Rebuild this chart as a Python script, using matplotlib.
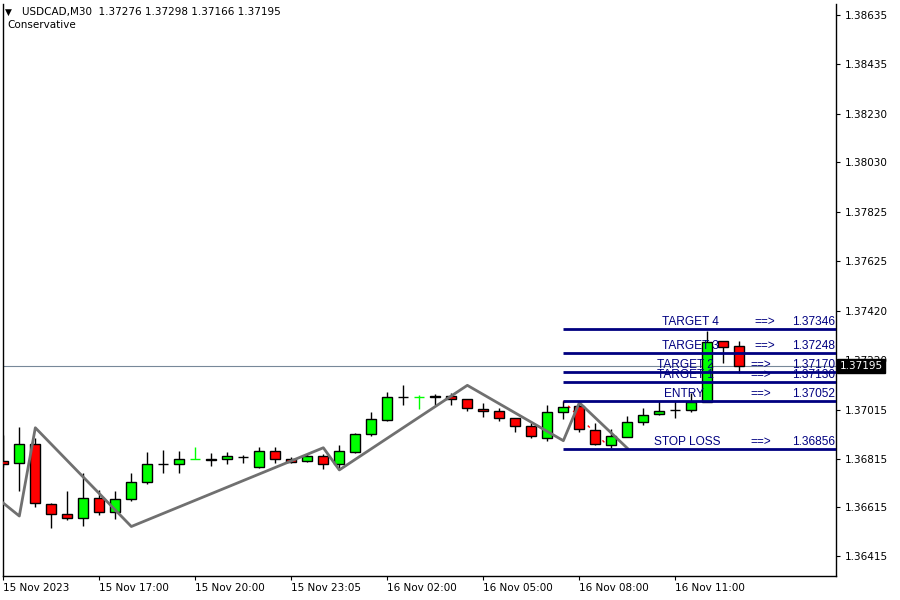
import matplotlib
matplotlib.use('Agg')
import matplotlib.pyplot as plt
import numpy as np

# USDCAD M30 bars
opens = [1.36805, 1.36797, 1.36875, 1.36628, 1.36587, 1.36571, 1.36653, 1.36598, 1.36649, 1.36719,
         1.36794, 1.36792, 1.36813, 1.36812, 1.36813, 1.36823, 1.36780, 1.36846, 1.36813, 1.36805,
         1.36825, 1.36792, 1.36842, 1.36915, 1.36974, 1.37068, 1.37067, 1.37067, 1.37071, 1.37059,
         1.37018, 1.37010, 1.36981, 1.36948, 1.36899, 1.37006, 1.37030, 1.36932, 1.36870, 1.36903,
         1.36965, 1.36997, 1.37013, 1.37014, 1.37047, 1.37297, 1.37276]
highs = [1.36913, 1.36947, 1.36899, 1.36633, 1.36683, 1.36755, 1.36687, 1.36683, 1.36758, 1.36842,
         1.36851, 1.36847, 1.36863, 1.36838, 1.36843, 1.36831, 1.36862, 1.36862, 1.36821, 1.36833,
         1.36833, 1.36870, 1.36922, 1.37006, 1.37088, 1.37118, 1.37077, 1.37081, 1.37084, 1.37059,
         1.37043, 1.37022, 1.36981, 1.36961, 1.37037, 1.37051, 1.37051, 1.36961, 1.36936, 1.36989,
         1.37022, 1.37051, 1.37051, 1.37084, 1.37340, 1.37298, 1.37298]
lows = [1.36783, 1.36684, 1.36616, 1.36532, 1.36564, 1.36539, 1.36584, 1.36568, 1.36643, 1.36712,
        1.36758, 1.36758, 1.36813, 1.36787, 1.36795, 1.36796, 1.36776, 1.36796, 1.36797, 1.36801,
        1.36774, 1.36772, 1.36838, 1.36908, 1.36971, 1.37037, 1.37018, 1.37037, 1.37037, 1.37010,
        1.36988, 1.36971, 1.36926, 1.36899, 1.36886, 1.36977, 1.36924, 1.36870, 1.36858, 1.36903,
        1.36952, 1.36993, 1.36981, 1.37006, 1.37047, 1.37207, 1.37166]
closes = [1.36794, 1.36875, 1.36633, 1.36587, 1.36571, 1.36653, 1.36596, 1.36649, 1.36719, 1.36792,
          1.36795, 1.36813, 1.36813, 1.36811, 1.36825, 1.36824, 1.36846, 1.36813, 1.36803, 1.36825,
          1.36792, 1.36846, 1.36915, 1.36977, 1.37067, 1.37067, 1.37067, 1.37071, 1.37059, 1.37022,
          1.37010, 1.36981, 1.36948, 1.36907, 1.37006, 1.37026, 1.36936, 1.36875, 1.36907, 1.36965,
          1.36993, 1.37010, 1.37014, 1.37047, 1.37293, 1.37275, 1.37195]

zz_idx = [0, 1, 2, 8, 20, 21, 29, 35, 36, 39]
zz_price = [1.36633, 1.36580, 1.36942, 1.36537, 1.36860, 1.36769, 1.37116, 1.36889, 1.37045, 1.36858]

level_names = ['TARGET 4', 'TARGET 3', 'TARGET 2', 'TARGET 1', 'ENTRY', 'STOP LOSS']
level_prices = [1.37346, 1.37248, 1.37170, 1.37130, 1.37052, 1.36856]
level_start = 35

price_ticks = [1.38635, 1.38435, 1.38230, 1.38030, 1.37825, 1.37625, 1.37420,
               1.37220, 1.37015, 1.36815, 1.36615, 1.36415]
date_idx = [0, 6, 12, 18, 24, 30, 36, 42]
date_labels = ['15 Nov 2023', '15 Nov 17:00', '15 Nov 20:00', '15 Nov 23:05',
               '16 Nov 02:00', '16 Nov 05:00', '16 Nov 08:00', '16 Nov 11:00']
last_price = 1.37195

W, H = 900, 600
fig = plt.figure(figsize=(9, 6), dpi=100)
ax = fig.add_axes([3 / W, 1 - 576 / H, 833 / W, 572 / H])
ax.set_xlim(-0.02, 52.04)
ax.set_ylim(1.36334, 1.38680)

n = len(opens)
x = np.arange(n)
o = np.array(opens); c = np.array(closes); h = np.array(highs); l = np.array(lows)
bw = 0.625

ax.axhline(last_price, color='#778899', lw=0.8, zorder=1)

# red dotted helper line
ax.plot([35, 37.6], [1.37052, 1.36880], color='red', lw=1, ls=(0, (2, 3)), zorder=1.5)

doji = o == c
ax.vlines(x[~doji], l[~doji], h[~doji], color='black', lw=1, zorder=2)
ax.vlines(x[doji], l[doji], h[doji], color='#00ff00', lw=1, zorder=2)
ax.hlines(o[doji], x[doji] - bw / 2, x[doji] + bw / 2, color='#00ff00', lw=1, zorder=3)
nd = ~doji
cols = np.where(c[nd] > o[nd], '#00ff00', '#ff0000')
ax.bar(x[nd], np.abs(c[nd] - o[nd]), bottom=np.minimum(o[nd], c[nd]), width=bw,
       color=cols, edgecolor='black', linewidth=1, zorder=3)

ax.plot(zz_idx, zz_price, color='#707070', lw=2, zorder=4)

navy = '#000080'
name_x = {'TARGET 4': 662, 'TARGET 3': 662, 'TARGET 2': 657, 'TARGET 1': 657,
          'ENTRY': 664, 'STOP LOSS': 654}
arrow_x = {'TARGET 4': 754, 'TARGET 3': 754}
fam = ['Liberation Sans', 'DejaVu Sans']
px2idx = lambda px: (px - 3.3) / 16.0
for name, p in zip(level_names, level_prices):
    ax.hlines(p, level_start, 52.04, color=navy, lw=2, zorder=5)
    yt = p + 0.00004
    ax.text(px2idx(name_x[name]), yt, name, color=navy, fontsize=8.6, family=fam,
            ha='left', va='bottom', zorder=6)
    ax.text(px2idx(arrow_x.get(name, 750)), yt, '==>', color=navy, fontsize=8.6, family=fam,
            ha='left', va='bottom', zorder=6)
    ax.text(51.96, yt, f'{p:.5f}', color=navy, fontsize=8.6, family=fam,
            ha='right', va='bottom', zorder=6)

# axes styling
for s in ax.spines.values():
    s.set_linewidth(1)
ax.spines['top'].set_visible(False)
ax.yaxis.tick_right()
ax.set_yticks(price_ticks)
ax.set_yticklabels([f'{t:.5f}' for t in price_ticks], fontsize=7.5)
ax.tick_params(axis='y', length=3, width=0.8, pad=3)
ax.set_xticks(date_idx)
ax.set_xticklabels([])
ax.tick_params(axis='x', length=3, width=0.8)
for xi, lab in zip(date_idx, date_labels):
    ax.text(xi - 0.05, -0.012, lab, transform=ax.get_xaxis_transform(),
            fontsize=7.5, ha='left', va='top')

# last price box
ax.text(1.004, last_price, '1.37195', transform=ax.get_yaxis_transform(),
        fontsize=7.5, color='white', ha='left', va='center', zorder=10,
        bbox=dict(boxstyle='square,pad=0.2', fc='black', ec='black'))

fig.text(5 / W, 1 - 12 / H, '\u25bc', fontsize=6.5, va='center', ha='left')
fig.text(22 / W, 1 - 12 / H, 'USDCAD,M30  1.37276 1.37298 1.37166 1.37195',
         fontsize=7.5, va='center', ha='left')
fig.text(7 / W, 1 - 25 / H, 'Conservative', fontsize=7.5, va='center', ha='left')

fig.savefig('out.png', dpi=100)
